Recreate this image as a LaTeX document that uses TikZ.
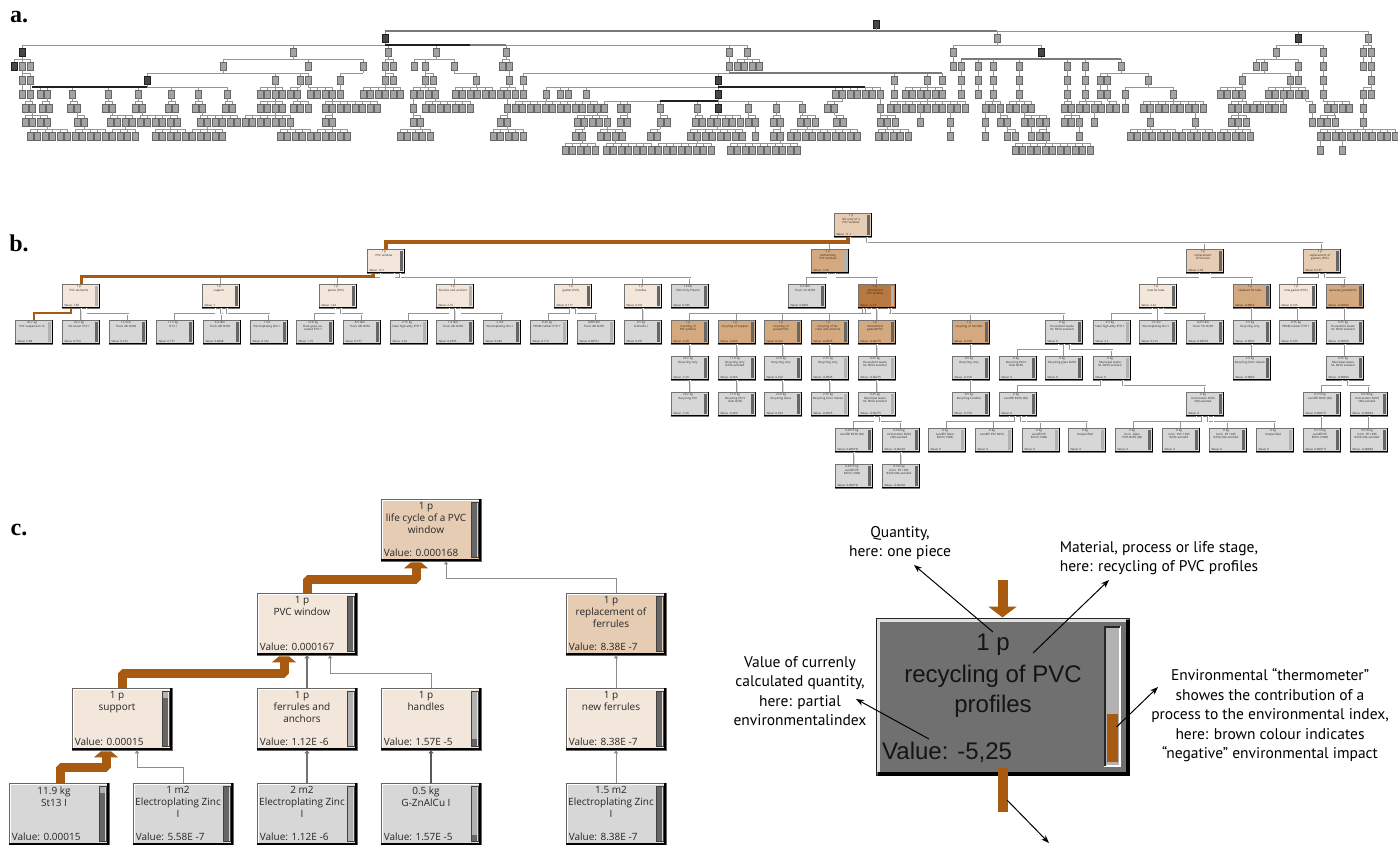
\documentclass[tikz,border=0pt]{standalone}
\usepackage{fontspec}
\setmainfont{Open Sans}
\newfontfamily\annfont{PT Sans}
\newfontfamily\bigfont{Liberation Sans}
\newfontfamily\labfont{Liberation Serif}
\usetikzlibrary{calc,arrows.meta}
\definecolor{cream}{HTML}{F3E6DA}
\definecolor{ltan}{HTML}{E5CCB3}
\definecolor{tan}{HTML}{D5A97F}
\definecolor{dbrown}{HTML}{B87940}
\definecolor{leaf}{HTML}{D7D7D7}
\definecolor{flow}{HTML}{A85A10}
\definecolor{thdark}{HTML}{666666}
\definecolor{thlight}{HTML}{B2B2B2}
\definecolor{bigg}{HTML}{707070}
\tikzset{
 abox/.style={fill=black!36, draw=black!60, line width=0.6pt},
 adark/.style={fill=black!72, draw=black!88, line width=0.6pt},
 aline/.style={draw=black!42, line width=0.8pt},
 athick/.style={draw=black!88, line width=2pt},
 agthick/.style={draw=black!52, line width=2pt},
 bnode/.style={draw=black!55, line width=0.5pt, minimum width=37pt, minimum height=24pt, inner sep=0pt},
 btxt/.style={font=\fontsize{2.9}{3.4}\selectfont, align=center, text width=31pt, inner sep=0pt, text=black!85},
 bval/.style={font=\fontsize{2.9}{3.4}\selectfont, inner sep=0pt, text=black!85},
 bline/.style={draw=black!42, double=white, double distance=0.45pt, line width=0.45pt},
 cnode/.style={draw=black!60, line width=0.6pt, minimum width=100pt, minimum height=62pt, inner sep=0pt},
 ctxt/.style={font=\fontsize{10}{12}\selectfont, align=center, inner sep=0pt, text=black!85},
 cval/.style={font=\fontsize{10}{12}\selectfont, inner sep=0pt, text=black!85},
 cflow/.style={draw=flow, line width=9pt, line join=bevel},
 cgl/.style={draw=black!45, line width=1pt, -{Triangle[length=3pt,width=4pt]}},
 cgm/.style={draw=black!55, line width=1.8pt, -{Triangle[length=3pt,width=5pt]}},
 lab/.style={font=\labfont\bfseries\fontsize{24}{24}\selectfont, inner sep=0pt},
 anntxt/.style={font=\annfont\fontsize{15.5}{19.5}\selectfont, align=center, inner sep=0pt},
 bigtxt/.style={font=\bigfont\fontsize{24}{30}\selectfont, inner sep=0pt, text=black!92},
 ann/.style={draw=black, line width=1pt, -{Stealth[length=8pt,width=6pt]}}
}
% panel a: group of sibling boxes
\newcommand\pA[5]{%
  \draw[aline] ({min(#2,#4)},{#1-7}) -- ({max(#3,#4)},{#1-7});
  \draw[aline] (#4,{#1-10}) -- (#4,{#1-7});
  \foreach \xx in {#5}{%
    \draw[aline] (\xx,{#1-7}) -- (\xx,{#1-4});
    \path[abox] ({\xx-3},{#1-4}) rectangle ({\xx+3},{#1+4});
  }%
}
\newcommand\pAch[2]{\pA{#1}{#2}{#2}{#2}{#2}}
\newcommand\pAdk[2]{\path[adark] ({#1-3},{#2-4}) rectangle ({#1+3},{#2+4});}
% panel b node
\newcommand\pBn[8]{%
  \node[bnode, fill=#4] (#1) at (#2,#3) {};
  \node[btxt, anchor=north] (#1t) at ($(#1.north)+(-2,1.8)$) {#5\\#6};
  \node[bval, anchor=south west] (#1v) at ($(#1.south west)+(1.8,-2)$) {Value: #7};
  \fill[#8] ($(#1.north east)+(-4.8,2)$) rectangle ($(#1.south east)+(-2.2,-2)$);
  \draw[black, line width=0.9pt] ($(#1.north east)+(-0.4,0)$) -- ($(#1.south east)+(-0.4,-0.4)$) -- ($(#1.south west)+(0,-0.4)$);
}
\newcommand\pBc[2]{%
  \draw[bline] let \p1=(#1.north), \p2=(#2.south), \n1={max(-14,min(14,(\x1-\x2)*0.12))} in (\p1) -- ++(0,-6) -| (\x2+\n1,\y2);
}
\newcommand\pBbrown[4]{%
  \draw[draw=flow, line width=#4] (#1.north) -- ++(0,-7) -| ($(#2.south)+(#3,0)$);
}
% panel c node
\newcommand\pCn[9]{%
  \node[cnode, fill=#4] (#1) at (#2,#3) {};
  \node[ctxt, anchor=north] (#1t) at ($(#1.north)+(-5,3.5)$) {#5};
  \node[cval, anchor=south west] (#1v) at ($(#1.south west)+(3,-4.5)$) {Value: #6};
  \coordinate (#1ta) at ($(#1.north east)+(-9.5,4.5)$);
  \coordinate (#1tb) at ($(#1.south east)+(-9.5,-4.5)$);
  \fill[#8] (#1ta) rectangle ($(#1.south east)+(-4,-4.5)$);
  \fill[#9] ($(#1ta)!#7!(#1tb)$) rectangle ($(#1.south east)+(-4,-4.5)$);
  \draw[black!75, line width=0.6pt] ($(#1.north east)+(-10,4)$) rectangle ($(#1.south east)+(-3.5,-4)$);
  \draw[black, line width=2pt] ($(#1.north east)+(-1,0)$) -- ($(#1.south east)+(-1,-1)$) -- ($(#1.south west)+(0,-1)$);
  \draw[white, line width=1pt] ($(#1.south west)+(1.5,-2)$) -- ($(#1.north west)+(1.5,1.5)$) -- ($(#1.north east)+(-2,1.5)$);
}
\newcommand\pChead[2]{%
  \fill[flow] ($(#1.south)+(#2-12,7)$) -- ($(#1.south)+(#2+12,7)$) -- ($(#1.south)+(#2+5,1)$) -- ($(#1.south)+(#2-5,1)$) -- cycle;
}
\begin{document}
\begin{tikzpicture}[x=1pt,y=-1pt]
\useasboundingbox (0,0) rectangle (1398,845);
\fill[white] (0,0) rectangle (1398,845);
% ---------------- labels
\node[lab] (la) at (19,17) {a.};
\node[lab] (lb) at (19,243) {b.};
\node[lab] (lc) at (19,530) {c.};
% ---------------- panel a
\pAdk{876}{24}
\pA{38}{385}{1368}{876}{385,997,1298,1368}
\draw[agthick] (385,31) -- (997,31);
% L2
\pA{52}{22}{747}{385}{22,293,388,436,506,729,747}
\pA{52}{953}{1041}{997}{953,1041}
\pA{52}{1276}{1323}{1298}{1276,1323}
\pA{52}{1363}{1371}{1368}{1363,1371}
\draw[athick] (385,45) -- (470,45);
\draw[agthick] (470,45) -- (506,45);
% L3
\pA{66}{14}{30}{22}{14,22,30}
\pA{66}{223}{363}{293}{223,308,363}
\pA{66}{385}{393}{388}{385,393}
\pA{66}{414}{454}{436}{414,425,454}
\pA{66}{502}{509}{506}{502,509}
\pAch{66}{729}
\pA{66}{737}{759.5}{747}{737,744.5,752,759.5}
\pAch{66}{953}
\pA{66}{961}{1121}{1041}{961,978,993,1019,1067,1085,1121}
\pA{66}{1256}{1298}{1276}{1256,1264,1298}
\pAch{66}{1323}
\pAch{66}{1363}
\pAch{66}{1371}
\draw[agthick] (961,59) -- (1121,59);
% L4
\pA{80}{22}{30}{22}{22,30}
\pA{80}{147}{308}{223}{147,275,300,308}
\pA{80}{340}{340}{363}{340}
\pA{80}{385}{393}{385}{385,393}
\pA{80}{425}{433}{425}{425,433}
\pA{80}{476}{476}{454}{476}
\pAch{80}{509}
\pA{80}{523}{942}{729}{523,718,894,927,942}
\draw[agthick] (729,73) -- (942,73);
\pAch{80}{961}\pAch{80}{978}\pAch{80}{993}\pAch{80}{1019}\pAch{80}{1067}\pAch{80}{1085}
\pA{80}{1100}{1148}{1121}{1100,1107.5,1148}
\pA{80}{1242}{1290}{1264}{1242,1290}
\pAch{80}{1298}\pAch{80}{1323}\pAch{80}{1371}
% L5
\pAch{94}{22}\pAch{94}{30}
\pA{94}{40}{227}{147}{40,47,72,108,138,171,198,227}
\draw[athick] (32,87) -- (147,87);
\pA{94}{260}{282.5}{275}{260,267.5,275,282.5}
\pA{94}{290}{297.5}{300}{290,297.5}
\pA{94}{310}{332.5}{308}{310,317.5,325,332.5}
\pAch{94}{340}
\pA{94}{363}{400.5}{385}{363,370.5,378,385.5,393,400.5}
\pA{94}{413}{435.5}{425}{413,420.5,428,435.5}
\pA{94}{455}{492.5}{476}{455,462.5,470,477.5,485,492.5}
\pA{94}{500}{515}{509}{500,507.5,515}
\pAch{94}{523}
\pA{94}{546}{880}{718}{546,560,568,586,718,835,842.5,850,857.5,865,872.5,880}
\draw[athick] (718,87) -- (865,87);
\pAch{94}{894}
\pA{94}{905}{942.5}{927}{905,912.5,920,927.5,935,942.5}
\pAch{94}{961}\pAch{94}{978}\pAch{94}{993}\pAch{94}{1019}\pAch{94}{1067}\pAch{94}{1085}\pAch{94}{1100}\pAch{94}{1107.5}
\pA{94}{1125}{1173}{1148}{1125,1173}
\pA{94}{1220}{1242.5}{1242}{1220,1227.5,1235,1242.5}
\pA{94}{1268}{1305.5}{1290}{1268,1275.5,1283,1290.5,1298,1305.5}
\pAch{94}{1323}
\pA{94}{1363}{1371}{1371}{1363,1371}
% L6
\pA{108}{25}{32.5}{30}{25,32.5}
\pA{108}{42}{49.5}{47}{42,49.5}
\pA{108}{70}{77.5}{72}{70,77.5}
\pA{108}{105}{112.5}{108}{105,112.5}
\pA{108}{135}{142.5}{138}{135,142.5}
\pA{108}{168}{175.5}{171}{168,175.5}
\pA{108}{195}{202.5}{198}{195,202.5}
\pA{108}{225}{232.5}{227}{225,232.5}
\pA{108}{260}{282.5}{275}{260,267.5,275,282.5}
\pA{108}{293}{308}{297.5}{293,300.5,308}
\pA{108}{325}{377.5}{332.5}{325,332.5,...,377.5}
\pAch{108}{413}
\pA{108}{425}{470}{435.5}{425,432.5,...,470}
\pAch{108}{507.5}
\pA{108}{515}{597.5}{546}{515,522.5,...,597.5}
\pA{108}{604}{802}{718}{604,620,627.5,660,697,718,748,776,802}
\draw[athick] (660,101) -- (718,101);
\pA{108}{827}{834.5}{842.5}{827,834.5}
\pAch{108}{880}
\pA{108}{890}{965}{927.5}{890,897.5,...,965}
\pA{108}{985}{1000}{993}{985,992.5,1000}
\pA{108}{1009}{1031.5}{1019}{1009,1016.5,1024,1031.5}
\pA{108}{1064}{1071.5}{1067}{1064,1071.5}
\pA{108}{1079}{1101.5}{1085}{1079,1086.5,1094,1101.5}
\pA{108}{1109}{1116.5}{1107.5}{1109,1116.5}
\pAch{108}{1125}
\pA{108}{1143}{1203}{1173}{1143,1150.5,...,1203}
\pA{108}{1231}{1246}{1242.5}{1231,1238.5,1246}
\pA{108}{1253}{1283}{1283}{1253,1260.5,...,1283}
\pA{108}{1312}{1312}{1305.5}{1312}
\pA{108}{1327}{1349.5}{1323}{1327,1334.5,1342,1349.5}
\pAch{108}{1363}
% L7
\pA{122}{25}{47.5}{32.5}{25,32.5,40,47.5}
\pA{122}{77}{84.5}{77.5}{77,84.5}
\pA{122}{110}{132.5}{112.5}{110,117.5,125,132.5}
\pA{122}{140}{177.5}{142.5}{140,147.5,...,177.5}
\pA{122}{200}{237.5}{202.5}{200,207.5,...,237.5}
\pA{122}{245}{290}{275}{245,252.5,...,290}
\pA{122}{325}{332.5}{332.5}{325,332.5}
\pA{122}{413}{420.5}{413}{413,420.5}
\pA{122}{500}{507.5}{507.5}{500,507.5}
\pA{122}{577}{607}{597.5}{577,584.5,592,599.5,607}
\pA{122}{620}{627.5}{627.5}{620,627.5}
\pA{122}{660}{667.5}{660}{660,667.5}
\pA{122}{695}{702.5}{697}{695,702.5}
\pA{122}{710}{740}{718}{710,717.5,725,732.5,740}
\pA{122}{748}{755.5}{748}{748,755.5}
\pA{122}{773}{780.5}{776}{773,780.5}
\pA{122}{800}{815}{802}{800,807.5,815}
\pA{122}{836}{843.5}{834.5}{836,843.5}
\pA{122}{880}{895}{880}{880,887.5,895}
\pAch{122}{920}\pAch{122}{950}\pAch{122}{985}
\pA{122}{1000}{1007.5}{1000}{1000,1007.5}
\pA{122}{1024}{1046.5}{1024}{1024,1031.5,1039,1046.5}
\pA{122}{1064}{1079}{1071.5}{1064,1071.5,1079}
\pAch{122}{1094}\pAch{122}{1150.5}\pAch{122}{1195.5}
\pA{122}{1231}{1246}{1238.5}{1231,1238.5,1246}
\pAch{122}{1312}
\pA{122}{1320}{1335}{1334.5}{1320,1327.5,1335}
\pAch{122}{1363}
% L8
\pA{136}{30}{67.5}{47.5}{30,37.5,...,67.5}
\pA{136}{75}{105}{84.5}{75,82.5,...,105}
\pA{136}{112.5}{135}{125}{112.5,120,127.5,135}
\pA{136}{155}{185}{170}{155,162.5,...,185}
\pA{136}{192.5}{222.5}{207.5}{192.5,200,...,222.5}
\pA{136}{280}{310}{290}{280,287.5,...,310}
\pA{136}{317.5}{347.5}{332.5}{317.5,325,...,347.5}
\pA{136}{400}{430}{420.5}{400,407.5,...,430}
\pA{136}{493}{523}{507.5}{493,500.5,...,523}
\pA{136}{575}{582.5}{584.5}{575,582.5}
\pA{136}{600}{622.5}{607}{600,607.5,615,622.5}
\pA{136}{650}{657.5}{660}{650,657.5}
\pA{136}{690}{742.5}{717.5}{690,697.5,...,742.5}
\pAch{136}{755.5}
\pA{136}{773}{780.5}{780.5}{773,780.5}
\pA{136}{790}{857.5}{807.5}{790,797.5,...,857.5}
\pA{136}{878}{908}{887.5}{878,885.5,...,908}
\pAch{136}{950}\pAch{136}{985}
\pA{136}{1007.5}{1015}{1007.5}{1007.5,1015}
\pAch{136}{1031.5}
\pA{136}{1039}{1046.5}{1046.5}{1039,1046.5}
\pAch{136}{1079}
\pA{136}{1130}{1175}{1150.5}{1130,1137.5,...,1175}
\pA{136}{1182.5}{1212.5}{1195.5}{1182.5,1190,...,1212.5}
\pA{136}{1220}{1250}{1238.5}{1220,1227.5,...,1250}
\pA{136}{1320}{1395}{1363}{1320,1327.5,...,1395}
% L9
\pA{150}{565}{595}{582.5}{565,572.5,...,595}
\pA{150}{606}{651}{615}{606,613.5,...,651}
\pA{150}{658.5}{711}{697.5}{658.5,666,...,711}
\pA{150}{730}{797.5}{780.5}{730,737.5,...,797.5}
\pA{150}{1015}{1090}{1046.5}{1015,1022.5,...,1090}
\pAch{150}{1320}\pAch{150}{1342.5}
% dark nodes
\pAdk{385}{38}\pAdk{22}{52}\pAdk{14}{66}\pAdk{147}{80}\pAdk{718}{80}\pAdk{718}{94}\pAdk{1041}{52}\pAdk{1298}{38}\pAdk{718}{108}
% ---------------- panel b nodes
\pBn{bR}{853}{225}{ltan}{1 p}{life cycle of a PVC window}{11.1}{thdark}
\pBn{bW}{386}{261}{cream}{1 p}{PVC window}{14.1}{thdark}
\pBn{bD}{830}{261}{tan}{1 p}{dismantling PVC window}{-5.45}{thlight}
\pBn{bRF}{1205}{261}{ltan}{1 p}{replacement of ferrules}{2.33}{thdark}
\pBn{bRG}{1322}{261}{ltan}{1 p}{replacement of gaskets (PVC)}{0.137}{thdark}
\pBn{bPE}{81}{296}{cream}{1 p}{PVC elements}{7.85}{thlight}
\pBn{bSu}{221}{296}{cream}{1 p}{support}{1}{thdark}
\pBn{bPa}{338}{296}{cream}{1 p}{panes (PVC)}{1.92}{thdark}
\pBn{bFA}{455}{296}{cream}{1 p}{ferrules and anchors}{2.76}{thlight}
\pBn{bGa}{573}{296}{cream}{1 p}{gasket (PVC)}{0.117}{thdark}
\pBn{bHa}{643}{296}{cream}{1 p}{handles}{0.251}{thdark}
\pBn{bEl}{690}{296}{leaf}{10 MJ}{Electricity Poland}{0.185}{thdark}
\pBn{bTr}{807}{296}{leaf}{3.4 tkm}{Truck 16t B250}{0.0901}{thdark}
\pBn{bDW}{877}{296}{dbrown}{1 p}{dismantled PVC window}{-5.73}{thlight}
\pBn{bNF}{1158}{296}{cream}{1 p}{new ferrules}{2.42}{thdark}
\pBn{bRpF}{1252}{296}{tan}{1 p}{replaced ferrules}{-0.0863}{thdark}
\pBn{bNG}{1298}{296}{cream}{1 p}{new gasket (PVC)}{0.165}{thdark}
\pBn{bRpG}{1345}{296}{tan}{1 p}{replaced gasket(PVC)}{-0.00825}{thdark}
\pBn{bL1}{34}{332}{leaf}{26.2 kg}{PVC suspension m}{6.88}{thlight}
\pBn{bL2}{81}{332}{leaf}{26.2 kg}{Extrusion PVC I}{0.764}{thdark}
\pBn{bL3}{128}{332}{leaf}{12 tkm}{Truck 28t B250}{0.212}{thdark}
\pBn{bL4}{175}{332}{leaf}{11.9 kg}{St13 I}{0.777}{thdark}
\pBn{bL5}{222}{332}{leaf}{4.8 tkm}{Truck 28t B250}{0.0848}{thdark}
\pBn{bL6}{269}{332}{leaf}{1 m2}{Electroplating Zinc I}{0.142}{thdark}
\pBn{bL7}{315}{332}{leaf}{27.8 kg}{Float glass uncoated ETH T}{1.76}{thdark}
\pBn{bL8}{362}{332}{leaf}{8.9 tkm}{Truck 28t B250}{0.157}{thdark}
\pBn{bL9}{409}{332}{leaf}{2.75 kg}{Steel high alloy ETH T}{2.42}{thlight}
\pBn{bL10}{455}{332}{leaf}{1.9 tkm}{Truck 28t B250}{0.0336}{thdark}
\pBn{bL11}{502}{332}{leaf}{2 m2}{Electroplating Zinc I}{0.284}{thdark}
\pBn{bL12}{549}{332}{leaf}{0.25 kg}{EPDM rubber ETH T}{0.113}{thlight}
\pBn{bL13}{596}{332}{leaf}{0.88 tkm}{Truck 28t B250}{0.00561}{thlight}
\pBn{bL14}{643}{332}{leaf}{0.5 kg}{G-ZnAlCu I}{0.251}{thdark}
\pBn{bS1}{690}{332}{tan}{1 p}{recycling of PVC profiles}{-5.25}{thdark}
\pBn{bS2}{737}{332}{tan}{1 p}{recycling of support}{-0.466}{thdark}
\pBn{bS3}{783}{332}{tan}{1 p}{recycling of panes(PVC)}{0.254}{thdark}
\pBn{bS4}{830}{332}{tan}{1 p}{recycling of ferrules and anchors}{-0.0935}{thdark}
\pBn{bS5}{877}{332}{tan}{1 p}{dismantled gasket(PVC)}{-0.00275}{thdark}
\pBn{bS6}{971}{332}{tan}{1 p}{recycling of handles}{-0.158}{thdark}
\pBn{bS7}{1064}{332}{leaf}{0 kg}{Household waste NL B250 avoided}{0}{thdark}
\pBn{bS8}{1112}{332}{leaf}{2.5 kg}{Steel high alloy ETH T}{2.2}{thlight}
\pBn{bS9}{1158}{332}{leaf}{1.5 m2}{Electroplating Zinc I}{0.213}{thdark}
\pBn{bS10}{1205}{332}{leaf}{0.25 tkm}{Truck 16t B250}{0.00663}{thdark}
\pBn{bS11}{1252}{332}{leaf}{2.5 kg}{Recycling only}{-0.0863}{thdark}
\pBn{bS12}{1298}{332}{leaf}{0.75 kg}{EPDM rubber ETH T}{0.165}{thdark}
\pBn{bS13}{1345}{332}{leaf}{0.75 kg}{Household waste NL B250 avoided}{-0.00825}{thdark}
\pBn{bT1}{690}{368}{leaf}{26.2 kg}{Recycling only}{-5.25}{thdark}
\pBn{bT2}{737}{368}{leaf}{11.9 kg}{Recycling only B250 avoided}{-0.466}{thdark}
\pBn{bT3}{783}{368}{leaf}{27.8 kg}{Recycling only}{0.254}{thdark}
\pBn{bT4}{830}{368}{leaf}{2.75 kg}{Recycling only}{-0.0935}{thlight}
\pBn{bT5}{877}{368}{leaf}{0.25 kg}{Household waste NL B250 avoided}{-0.00275}{thlight}
\pBn{bT6}{971}{368}{leaf}{0.5 kg}{Recycling only}{-0.158}{thdark}
\pBn{bT7}{1018}{368}{leaf}{0 kg}{Recycling ECCS steel B250}{0}{thdark}
\pBn{bT8}{1064}{368}{leaf}{0 kg}{Recycling glass B250}{0}{thdark}
\pBn{bT9}{1112}{368}{leaf}{0 kg}{Municipal waste NL B250 avoided}{0}{thlight}
\pBn{bT10}{1252}{368}{leaf}{2.5 kg}{Recycling ferro metals}{-0.0863}{thdark}
\pBn{bT11}{1345}{368}{leaf}{0.75 kg}{Municipal waste NL B250 avoided}{-0.00825}{thdark}
\pBn{bU1}{690}{404}{leaf}{26.2 kg}{Recycling PVC}{-5.25}{thdark}
\pBn{bU2}{737}{404}{leaf}{11.9 kg}{Recycling ECCS steel B250}{-0.466}{thdark}
\pBn{bU3}{783}{404}{leaf}{27.8 kg}{Recycling Glass}{0.254}{thdark}
\pBn{bU4}{830}{404}{leaf}{2.75 kg}{Recycling ferro metals}{-0.0935}{thlight}
\pBn{bU5}{877}{404}{leaf}{0.25 kg}{Municipal waste NL B250 avoided}{-0.00275}{thlight}
\pBn{bU6}{971}{404}{leaf}{0.5 kg}{Recycling handles}{-0.158}{thdark}
\pBn{bU7}{1018}{404}{leaf}{0 kg}{Landfill B250 (98)}{0}{thdark}
\pBn{bU8}{1205}{404}{leaf}{0 kg}{Incineration B250 (98) avoided}{0}{thdark}
\pBn{bU9}{1322}{404}{leaf}{0.173 kg}{Landfill B250 (98)}{0.000171}{thdark}
\pBn{bU10}{1369}{404}{leaf}{0.578 kg}{Incineration B250 (98) avoided}{-0.00843}{thdark}
\pBn{bV1}{854}{440}{leaf}{0.0575 kg}{Landfill B250 (98)}{0.000191}{thdark}
\pBn{bV2}{901}{440}{leaf}{0.193 kg}{Incineration B250 (98) avoided}{-0.00294}{thdark}
\pBn{bV3}{947}{440}{leaf}{0 kg}{Landfill Glass B250 (1998)}{0}{thlight}
\pBn{bV4}{994}{440}{leaf}{0 kg}{Landfill PVC B250}{0}{thlight}
\pBn{bV5}{1041}{440}{leaf}{0 kg}{Landfill PE B250 (1998)}{0}{thlight}
\pBn{bV6}{1087}{440}{leaf}{0 kg}{Unspecified}{0}{thlight}
\pBn{bV7}{1134}{440}{leaf}{0 kg}{Incin. Glass 1995 B250 (98)}{0}{thdark}
\pBn{bV8}{1181}{440}{leaf}{0 kg}{Incin. PVC 1995 B250 avoided}{0}{thdark}
\pBn{bV9}{1228}{440}{leaf}{0 kg}{Incin. PE 1995 B250 (98) avoided}{0}{thdark}
\pBn{bV10}{1275}{440}{leaf}{0 kg}{Unspecified}{0}{thlight}
\pBn{bV11}{1322}{440}{leaf}{0.173 kg}{Landfill PE B250 (1998)}{0.000171}{thdark}
\pBn{bV12}{1369}{440}{leaf}{0.578 kg}{Incin. PE 1995 B250 (98) avoided}{-0.00843}{thdark}
\pBn{bX1}{854}{476}{leaf}{0.0575 kg}{Landfill PE B250 (1998)}{0.000191}{thdark}
\pBn{bX2}{901}{476}{leaf}{0.193 kg}{Incin. PE 1995 B250 (98) avoided}{-0.00294}{thdark}
% ---------------- panel b connectors
\pBc{bD}{bR}\pBc{bRF}{bR}\pBc{bRG}{bR}
\pBbrown{bW}{bR}{-5}{4pt}
\pBc{bSu}{bW}\pBc{bPa}{bW}\pBc{bFA}{bW}\pBc{bGa}{bW}\pBc{bHa}{bW}\pBc{bEl}{bW}
\pBbrown{bPE}{bW}{-13}{3pt}
\pBc{bTr}{bD}\pBc{bDW}{bD}
\pBc{bNF}{bRF}\pBc{bRpF}{bRF}\pBc{bNG}{bRG}\pBc{bRpG}{bRG}
\pBc{bL2}{bPE}\pBc{bL3}{bPE}
\pBbrown{bL1}{bPE}{-10}{2.2pt}
\pBc{bL4}{bSu}\pBc{bL5}{bSu}\pBc{bL6}{bSu}
\pBc{bL7}{bPa}\pBc{bL8}{bPa}
\pBc{bL9}{bFA}\pBc{bL10}{bFA}\pBc{bL11}{bFA}
\pBc{bL12}{bGa}\pBc{bL13}{bGa}
\pBc{bL14}{bHa}
\pBc{bS1}{bDW}\pBc{bS2}{bDW}\pBc{bS3}{bDW}\pBc{bS4}{bDW}\pBc{bS5}{bDW}\pBc{bS6}{bDW}\pBc{bS7}{bDW}
\pBc{bS8}{bNF}\pBc{bS9}{bNF}\pBc{bS10}{bNF}
\pBc{bS11}{bRpF}\pBc{bS12}{bNG}\pBc{bS13}{bRpG}
\pBc{bT1}{bS1}\pBc{bT2}{bS2}\pBc{bT3}{bS3}\pBc{bT4}{bS4}\pBc{bT5}{bS5}\pBc{bT6}{bS6}
\pBc{bT7}{bS7}\pBc{bT8}{bS7}\pBc{bT9}{bS7}
\pBc{bT10}{bS11}\pBc{bT11}{bS13}
\pBc{bU1}{bT1}\pBc{bU2}{bT2}\pBc{bU3}{bT3}\pBc{bU4}{bT4}\pBc{bU5}{bT5}\pBc{bU6}{bT6}
\pBc{bU7}{bT9}\pBc{bU8}{bT9}
\pBc{bU9}{bT11}\pBc{bU10}{bT11}
\pBc{bV1}{bU5}\pBc{bV2}{bU5}
\pBc{bV3}{bU7}\pBc{bV4}{bU7}\pBc{bV5}{bU7}\pBc{bV6}{bU7}
\pBc{bV7}{bU8}\pBc{bV8}{bU8}\pBc{bV9}{bU8}\pBc{bV10}{bU8}
\pBc{bV11}{bU9}\pBc{bV12}{bU10}
\pBc{bX1}{bV1}\pBc{bX2}{bV2}
% ---------------- panel c nodes
\pCn{cLife}{431}{530}{ltan}{1 p\\life cycle of a PVC\\window}{0.000168}{0}{thlight}{thdark}
\pCn{cWin}{307}{624}{cream}{1 p\\PVC window}{0.000167}{0}{thlight}{thdark}
\pCn{cRep}{616}{624}{ltan}{1 p\\replacement of\\ferrules}{8.38E -7}{0}{thlight}{thdark}
\pCn{cSup}{122}{719}{cream}{1 p\\support}{0.00015}{0.1}{thlight}{thdark}
\pCn{cFer}{307}{719}{cream}{1 p\\ferrules and\\anchors}{1.12E -6}{1}{thlight}{thlight}
\pCn{cHan}{431}{719}{cream}{1 p\\handles}{1.57E -5}{0.88}{thlight}{thdark}
\pCn{cNew}{616}{719}{cream}{1 p\\new ferrules}{8.38E -7}{0}{thlight}{thdark}
\pCn{cSt}{59}{814}{leaf}{11.9 kg\\St13 I}{0.00015}{0.1}{thlight}{thdark}
\pCn{cE1}{183}{814}{leaf}{1 m2\\Electroplating Zinc\\I}{5.58E -7}{0}{thlight}{thdark}
\pCn{cE2}{307}{814}{leaf}{2 m2\\Electroplating Zinc\\I}{1.12E -6}{1}{thlight}{thlight}
\pCn{cG}{431}{814}{leaf}{0.5 kg\\G-ZnAlCu I}{1.57E -5}{0.9}{thlight}{thdark}
\pCn{cE15}{616}{814}{leaf}{1.5 m2\\Electroplating Zinc\\I}{8.38E -7}{0}{thlight}{thdark}
% ---------------- panel c connectors
\draw[cflow] ($(cSt.north)+(1,0)$) |- ($(cSup.south)+(-16,17)$) -- ($(cSup.south)+(-16,6)$);
\pChead{cSup}{-16}
\draw[cflow] (cSup.north) |- ($(cWin.south)+(-23,18)$) -- ($(cWin.south)+(-23,6)$);
\pChead{cWin}{-23}
\draw[cflow] (cWin.north) |- ($(cLife.south)+(-15,18)$) -- ($(cLife.south)+(-15,6)$);
\pChead{cLife}{-15}
\draw[cgl] (cE1.north) |- ($(cSup.south)+(15,17)$) -- ($(cSup.south)+(15,0)$);
\draw[cgm] (cE2.north) -- (cFer.south);
\draw[cgm, draw=black!65] (cG.north) -- (cHan.south);
\draw[cgm] (cFer.north) -- (cWin.south);
\draw[cgl] (cHan.north) |- ($(cWin.south)+(23,18)$) -- ($(cWin.south)+(23,0)$);
\draw[cgl] (cNew.north) -- (cRep.south);
\draw[cgl] (cE15.north) -- (cNew.south);
\draw[cgl] (cRep.north) |- ($(cLife.south)+(15,17)$) -- ($(cLife.south)+(15,0)$);
% ---------------- big annotated node
\node[draw=black!85, line width=1pt, fill=bigg, minimum width=253pt, minimum height=157pt, inner sep=0pt] (big) at (1002.5,696.5) {};
\draw[black, line width=4pt] ($(big.north east)+(-2,2)$) -- ($(big.south east)+(-2,-2)$) -- ($(big.south west)+(2,-2)$);
\draw[white!88!black, line width=3pt] ($(big.south west)+(2.5,-4)$) -- ($(big.north west)+(2.5,2.5)$) -- ($(big.north east)+(-4,2.5)$);
\node[bigtxt] (bq) at (993,645) {1 p};
\node[bigtxt] (bn1) at (993,676) {recycling of PVC};
\node[bigtxt] (bn2) at (993,706) {profiles};
\node[bigtxt, anchor=west] (bv) at (882,752) {Value: -5,25};
\fill[thlight] (1106,628) rectangle (1119,765);
\fill[flow] (1107,714) rectangle (1118,762);
\draw[white, line width=1.2pt] (1105,627) rectangle (1120,766);
\draw[black!85, line width=1.4pt] (1105,766) -- (1105,627) -- (1120,627);
\coordinate (topin) at (1002.5,580);
\draw[draw=flow, line width=10pt, -{Triangle[length=11pt,width=28pt]}] (topin) -- (big.north);
\coordinate (botout) at (1002.5,812);
\draw[draw=flow, line width=10pt] ($(big.south)+(0,-8)$) -- (botout);
% annotation texts
\node[anntxt] (t1) at (900,543) {Quantity,\\here: one piece};
\node[anntxt] (t2) at (1159,558) {Material, process or life stage,\\here: recycling of PVC profiles};
\node[anntxt] (t3) at (800,691) {Value of currenly\\calculated quantity,\\here: partial\\environmentalindex};
\node[anntxt] (t4) at (1270,715.5) {Environmental “thermometer”\\showes the contribution of a\\process to the environmental index,\\here: brown colour indicates\\“negative” environmental impact};
\coordinate (a1s) at (993,632); \coordinate (a1e) at (914,565);
\coordinate (a2s) at (1033,653); \coordinate (a2e) at (1109,580);
\coordinate (a3s) at (929,739); \coordinate (a3e) at (856,699);
\coordinate (a4s) at (1116.5,727); \coordinate (a4e) at (1158,687);
\coordinate (a5s) at (1007,800); \coordinate (a5e) at (1049,843);
\draw[ann] (a1s) -- (a1e);
\draw[ann] (a2s) -- (a2e);
\draw[ann] (a3s) -- (a3e);
\draw[ann] (a4s) -- (a4e);
\draw[ann] (a5s) -- (a5e);
\end{tikzpicture}
\end{document}
